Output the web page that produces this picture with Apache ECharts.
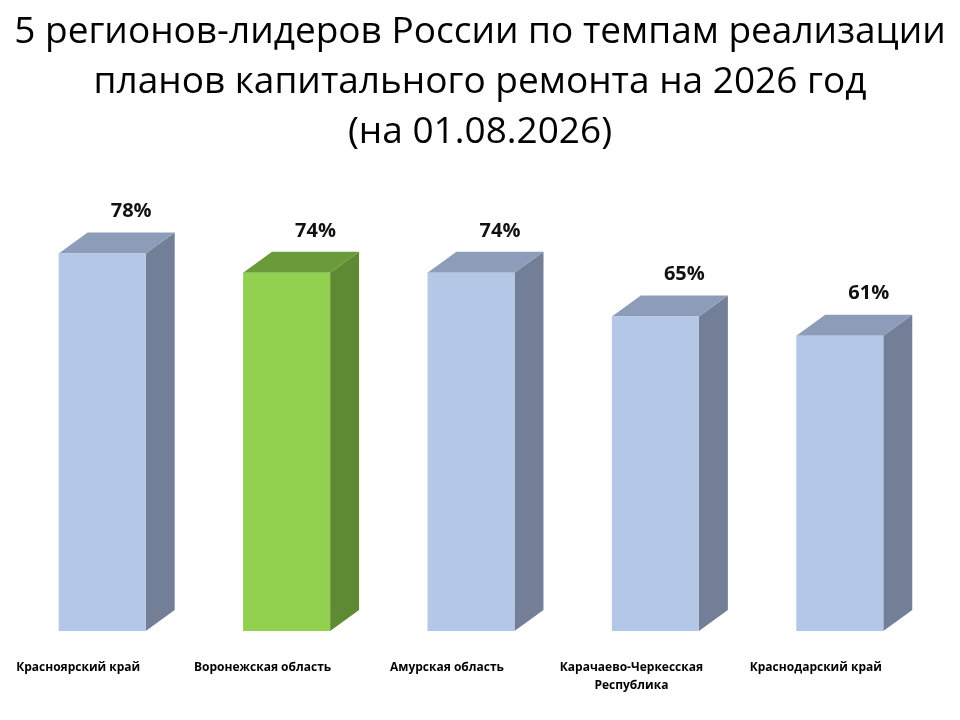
<!DOCTYPE html>
<html>
<head>
<meta charset="utf-8">
<script src="https://cdn.jsdelivr.net/npm/echarts@6/dist/echarts.min.js"></script>
<style>html,body{margin:0;padding:0;background:#fff}#c{width:960px;height:720px}</style>
</head>
<body>
<div id="c"></div>
<script>
const titleText = '5 регионов-лидеров России по темпам реализации\nпланов капитального ремонта на 2026 год\n(на 01.08.2026)';
const categories = ['Красноярский край', 'Воронежская область', 'Амурская область', 'Карачаево-Черкесская\nРеспублика', 'Краснодарский край'];
const values = [78, 74, 74, 65, 61];
const highlightIndex = 1;

const palette = {
  normal: { front: '#B4C7E7', top: '#8D9DB9', side: '#727F97' },
  highlight: { front: '#92D050', top: '#6B9A3B', side: '#5E8A33' }
};

const chart = echarts.init(document.getElementById('c'));

function renderItem(params, api) {
  const idx = params.dataIndex;
  const pt = api.coord([api.value(0), api.value(1)]);
  const base = api.coord([api.value(0), 0]);
  const band = api.size([1, 0])[0];
  const w = band * 0.472;
  const dx = band * 0.157;
  const dy = 21;
  const cx = pt[0];
  const x0 = cx - w / 2, x1 = cx + w / 2;
  const top = pt[1], bottom = base[1];
  const c = idx === highlightIndex ? palette.highlight : palette.normal;
  return {
    type: 'group',
    children: [
      { type: 'polygon', shape: { points: [[x1, top], [x1 + dx, top - dy], [x1 + dx, bottom - dy], [x1, bottom]] }, style: { fill: c.side } },
      { type: 'polygon', shape: { points: [[x0, top], [x0 + dx, top - dy], [x1 + dx, top - dy], [x1, top]] }, style: { fill: c.top } },
      { type: 'rect', shape: { x: x0, y: top, width: w, height: bottom - top }, style: { fill: c.front } },
      { type: 'text', x: cx + dx, y: top - dy - 21, style: { text: api.value(1) + '%', font: 'bold 20px "Open Sans", sans-serif', fill: '#111', align: 'center', verticalAlign: 'middle' } }
    ]
  };
}

chart.setOption({
  animation: false,
  backgroundColor: '#fff',
  graphic: [{
    type: 'text',
    x: 480,
    y: 7,
    style: { text: titleText, align: 'center', verticalAlign: 'top', font: '37px "Open Sans", sans-serif', lineHeight: 50, fill: '#000' }
  }],
  grid: { left: 10, right: 28, top: 147, bottom: 89, containLabel: false },
  xAxis: {
    type: 'category',
    data: categories,
    axisLine: { show: false },
    axisTick: { show: false },
    axisLabel: { interval: 0, margin: 28, verticalAlign: 'top', padding: [0, 48, 0, 0], lineHeight: 18, fontSize: 12, fontWeight: 'bold', fontFamily: 'Open Sans', color: '#000' }
  },
  yAxis: { type: 'value', min: 0, max: 100, show: false },
  series: [{
    type: 'custom',
    renderItem: renderItem,
    encode: { x: 0, y: 1 },
    data: values.map((v, i) => [i, v])
  }]
});
</script>
</body>
</html>
